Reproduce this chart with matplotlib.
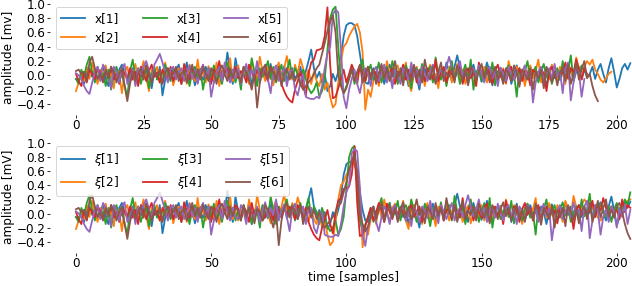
import numpy as np
import matplotlib
matplotlib.use('Agg')
import matplotlib.pyplot as plt

# ---- top panel series (raw signals) ----
x1 = [-0.05, -0.08, 0.02, -0.12, 0.05, 0.10, -0.02, 0.08, -0.06, 0.03,
      0.12, -0.04, -0.15, 0.06, 0.02, -0.10, 0.08, 0.15, 0.04, -0.07,
      0.02, 0.10, -0.12, 0.05, -0.03, 0.08, 0.14, -0.02, -0.18, 0.06,
      -0.05, 0.12, -0.28, -0.06, 0.10, 0.03, -0.09, 0.07, 0.15, -0.04,
      0.02, 0.18, -0.08, 0.05, -0.14, 0.09, 0.01, -0.06, 0.12, -0.02,
      0.08, -0.10, 0.04, 0.15, -0.05, 0.02, 0.32, 0.06, -0.12, 0.24,
      0.03, -0.08, 0.10, -0.02, 0.14, -0.15, 0.05, 0.08, -0.04, 0.11,
      -0.06, 0.02, 0.16, -0.10, 0.04, 0.09, -0.03, 0.13, -0.07, 0.05,
      0.10, -0.05, 0.02, 0.12, -0.08, 0.06, 0.20, 0.36, 0.10, -0.04,
      0.05, -0.10, 0.02, -0.22, -0.15,
      0.02, -0.08, 0.05, 0.25, 0.55, 0.70, 0.73, 0.73, 0.70, 0.55,
      0.30, 0.05, -0.10, -0.12, 0.02, 0.10, -0.05, 0.04,
      0.08, -0.12, 0.03, 0.15, -0.02, 0.06, -0.08,
      0.10, -0.05, 0.02, -0.15, 0.08, 0.12, -0.03, -0.20, 0.05, 0.09,
      -0.06, 0.03, 0.14, -0.10, 0.02, 0.07, -0.04, 0.18, 0.05, -0.08,
      0.12, 0.28, 0.10, -0.05, 0.08, -0.12, 0.04, 0.15, -0.02, 0.06,
      -0.09, 0.02, 0.18, 0.05, -0.14, 0.08, -0.03, 0.11, -0.06, 0.04,
      0.09, -0.12, 0.02, 0.14, -0.05, 0.07, -0.10, 0.03, 0.12, -0.02,
      0.05, -0.08, 0.10, 0.02, -0.15, 0.06, 0.13, -0.04, 0.08, -0.06,
      0.03, 0.15, -0.02, 0.10, -0.08, 0.05, 0.12, -0.05, 0.09, -0.03,
      0.02, 0.12, -0.05, 0.08, 0.16, 0.02, -0.10, 0.10, 0.24, 0.05,
      -0.17, -0.05, 0.10, 0.16, 0.08, 0.17]

x2 = [-0.22, -0.10, 0.05, -0.08, 0.12, -0.05, 0.18, 0.02, -0.12, 0.08,
      -0.03, 0.14, -0.06, 0.04, -0.18, 0.10, 0.02, -0.25, 0.06, 0.12,
      -0.08, 0.03, 0.16, -0.12, 0.05, 0.20, -0.04, -0.22, 0.08, 0.02,
      0.12, -0.10, 0.04, 0.18, -0.06, 0.09, -0.14, 0.03, 0.10, -0.02,
      0.06, -0.12, 0.15, 0.02, -0.08, 0.22, -0.04, 0.07, -0.10, 0.13,
      0.03, -0.06, 0.18, -0.15, 0.05, 0.10, -0.02, 0.24, -0.08, 0.04,
      0.14, -0.10, 0.06, 0.02, -0.12, 0.20, 0.03, -0.06, 0.26, 0.05,
      -0.08, 0.12, 0.02, -0.14, 0.08, 0.18, -0.05, 0.10, 0.27, 0.04,
      -0.06, 0.15, 0.02, 0.23, 0.10, -0.04, 0.08, -0.12, 0.05, -0.08,
      -0.15, 0.02, -0.20, -0.10, -0.30, -0.45, -0.40, -0.10, 0.20, 0.40,
      0.45, 0.55, 0.62, 0.68, 0.72, 0.60, 0.32, -0.48, -0.20, -0.30,
      -0.08, 0.05, -0.15, 0.10, -0.05, 0.20, 0.02, -0.12, 0.08, 0.14,
      -0.06, 0.03, 0.18, -0.10, -0.22, 0.05, 0.12, -0.03, 0.08, -0.15,
      0.06, 0.15, -0.08, 0.02, -0.18, 0.10, 0.04, -0.05, 0.12, -0.10,
      0.02, 0.16, -0.06, 0.08, -0.12, 0.05, 0.11, -0.14, 0.03, 0.09,
      -0.05, 0.12, -0.10, 0.04, 0.15, -0.08, 0.02, -0.03, 0.10, -0.12,
      0.20, 0.05, -0.06, 0.12, -0.02, 0.08, -0.15, 0.04, 0.14, -0.04,
      0.06, 0.22, -0.10, 0.03, 0.10, -0.06, 0.15, 0.02, -0.08, 0.12,
      0.04, -0.12, 0.18, 0.06, -0.03, 0.25, 0.10, -0.05, 0.12, 0.20,
      0.15, 0.22, 0.08, 0.02, -0.06, -0.10, -0.04, 0.02, 0.05]

x3 = [-0.05, -0.12, 0.08, -0.02, 0.15, 0.26, 0.05, -0.10, 0.12, -0.06,
      0.03, -0.15, 0.08, -0.20, 0.04, 0.12, -0.08, 0.02, -0.14, -0.30,
      0.06, 0.22, -0.05, 0.10, -0.12, 0.03, 0.08, -0.18, 0.02, 0.12,
      -0.06, 0.04, -0.10, 0.15, 0.02, -0.08, 0.10, -0.03, 0.06, -0.12,
      0.08, 0.02, -0.15, 0.05, 0.12, -0.04, 0.09, -0.20, 0.03, 0.10,
      -0.05, 0.14, -0.08, 0.02, -0.12, 0.06, 0.18, -0.03, 0.08, -0.10,
      0.04, -0.20, 0.12, 0.02, -0.07, 0.24, 0.05, -0.15, 0.10, -0.02,
      0.08, 0.20, -0.05, 0.12, -0.10, 0.03, 0.15, -0.08, 0.06, 0.22,
      -0.04, 0.10, 0.02, -0.15, 0.08, -0.05, -0.18, -0.25, -0.20, -0.10,
      -0.30, -0.22, -0.05, 0.35, 0.80, 0.92, 0.96, 0.40, -0.10, -0.25,
      -0.15, -0.05, 0.08, -0.12, 0.02, 0.10, 0.22, -0.08, 0.05, 0.15,
      -0.06, 0.02, 0.18, -0.10, 0.06, 0.12, -0.04, 0.20, 0.03, -0.12,
      0.08, -0.05, 0.14, 0.02, -0.18, 0.06, 0.10, -0.03, 0.16, -0.08,
      0.04, 0.12, -0.10, 0.25, 0.02, -0.06, 0.10, -0.15, 0.05, 0.20,
      -0.04, 0.08, -0.12, 0.03, 0.15, -0.06, 0.22, -0.20, 0.05, 0.10,
      -0.08, 0.02, 0.12, -0.05, 0.18, -0.14, 0.06, 0.03, -0.10, 0.08,
      0.14, -0.06, 0.02, -0.30, 0.10, -0.04, 0.06, 0.20, -0.08, 0.03,
      0.12, -0.10, 0.05, 0.16, -0.03, 0.08, -0.12, 0.02, 0.10, -0.06,
      0.20, -0.04, 0.06, 0.28, -0.08, 0.12, 0.02, 0.14, 0.05]

x4 = [0.02, -0.08, -0.15, 0.05, -0.10, 0.08, 0.02, -0.05, 0.10, 0.04,
      -0.08, 0.06, -0.02, 0.12, -0.06, 0.03, -0.12, 0.08, 0.02, -0.04,
      0.10, -0.06, 0.05, -0.15, 0.12, 0.03, -0.08, 0.06, 0.15, -0.02,
      0.04, -0.10, 0.08, 0.02, -0.05, 0.12, -0.08, 0.05, 0.02, -0.12,
      0.16, 0.04, -0.06, 0.10, 0.02, -0.10, 0.07, 0.14, -0.04, 0.05,
      -0.12, 0.08, 0.02, 0.20, -0.06, 0.04, 0.10, -0.08, 0.03, 0.12,
      -0.04, 0.06, 0.02, -0.10, 0.15, 0.05, -0.06, 0.08, -0.02, 0.10,
      0.03, -0.08, 0.12, 0.05, -0.05, 0.08, -0.12, -0.22, -0.30, -0.35,
      -0.38, -0.20, -0.08, 0.05, -0.15, -0.28, 0.02, 0.18, 0.22, 0.35,
      0.36, 0.38, 0.55, 0.95, 0.15, -0.32, -0.30, -0.18, -0.05, 0.08,
      -0.10, 0.02, 0.15, 0.05, -0.12, 0.14, 0.02, -0.08, 0.12, -0.04,
      0.08, 0.02, -0.10, 0.06, 0.12, -0.05, 0.03, 0.10, -0.12, 0.05,
      0.02, 0.15, -0.06, 0.08, -0.02, 0.12, -0.10, 0.04, 0.06, -0.08,
      0.10, 0.02, -0.05, 0.22, -0.08, 0.04, 0.12, -0.10, 0.06, 0.02,
      -0.06, 0.08, 0.14, -0.12, 0.03, 0.10, -0.04, 0.06, -0.15, 0.18,
      0.02, -0.08, 0.10, 0.04, -0.12, 0.06, 0.15, -0.02, 0.08, -0.10,
      0.05, 0.12, -0.06, 0.02, 0.10, -0.08, 0.06, 0.04, -0.14, 0.08,
      0.04, 0.04, 0.06, 0.03, -0.22, 0.05, 0.12, -0.02, 0.02, 0.02,
      0.03, 0.18, -0.05, 0.10, 0.04, 0.22, 0.08, -0.06, 0.10, 0.02]

x5 = [0.03, 0.00, -0.05, -0.15, -0.22, -0.26, -0.10, 0.05, 0.12, -0.08,
      0.15, 0.08, -0.05, -0.18, 0.12, 0.05, -0.10, 0.10, 0.16, -0.12,
      -0.04, 0.08, -0.15, 0.10, 0.02, 0.12, 0.20, 0.06, -0.08, 0.15,
      0.22, 0.30, 0.18, 0.04, -0.10, 0.08, 0.12, -0.06, 0.05, 0.10,
      -0.08, 0.02, 0.14, -0.05, 0.08, -0.12, 0.06, 0.15, -0.03, 0.10,
      -0.30, -0.10, 0.05, 0.12, -0.08, 0.18, 0.02, -0.10, 0.08, -0.05,
      0.10, -0.12, 0.04, 0.16, -0.06, 0.08, -0.02, 0.20, -0.10, 0.05,
      0.12, -0.05, -0.25, 0.06, 0.14, -0.08, 0.03, 0.10, -0.15, 0.05,
      0.08, -0.20, -0.28, -0.10, 0.02, -0.30, -0.32, -0.33, -0.33, -0.30,
      -0.32, -0.15, 0.10, 0.30, 0.40, 0.85, 0.92, 0.88, 0.37, -0.30,
      -0.46, -0.20, -0.05, 0.08, -0.12, -0.25, -0.05, 0.10, 0.02, -0.15,
      0.06, 0.12, -0.08, 0.03, 0.15, -0.10, 0.05, -0.18, 0.08, 0.02,
      -0.12, 0.10, 0.04, -0.06, 0.18, -0.02, 0.08, -0.14, 0.12, 0.03,
      -0.08, 0.05, 0.15, -0.10, 0.02, 0.08, -0.05, 0.12, 0.26, 0.10,
      -0.04, 0.06, 0.20, -0.02, 0.08, -0.12, 0.04, 0.10, -0.06, 0.14,
      0.02, -0.10, 0.08, 0.12, -0.04, 0.06, -0.15, 0.10, 0.03, -0.08,
      0.12, 0.02, -0.06, 0.08, -0.12, 0.05, 0.14, -0.03, 0.07, -0.38,
      -0.10, 0.05, 0.12, -0.08, 0.03, 0.10, -0.05, 0.16, -0.02, 0.06,
      -0.25, 0.10, 0.18, -0.35, -0.10, 0.12, 0.04, -0.30, -0.05]

x6 = [0.06, 0.08, 0.02, 0.05, -0.08, 0.18, 0.26, 0.10, -0.05, 0.02,
      -0.10, 0.08, -0.04, 0.12, 0.04, -0.08, 0.02, 0.10, -0.15, -0.36,
      -0.12, 0.05, -0.08, 0.02, 0.10, -0.06, 0.14, 0.04, -0.10, 0.06,
      -0.02, 0.08, -0.12, 0.04, 0.10, -0.05, 0.02, 0.12, -0.08, 0.03,
      0.06, -0.10, 0.02, 0.15, -0.04, 0.08, -0.06, 0.12, 0.02, -0.08,
      0.10, 0.04, -0.12, 0.06, 0.14, 0.02, -0.08, 0.10, -0.04, 0.08,
      0.02, -0.10, 0.12, 0.05, -0.06, -0.20, 0.02, -0.45, -0.10, 0.08,
      0.15, -0.05, 0.10, 0.04, -0.08, 0.12, -0.15, 0.02, 0.10, -0.06,
      0.05, -0.08, 0.02, -0.12, -0.20, -0.15, -0.10, -0.05, 0.02, 0.10,
      0.15, 0.30, 0.45, 0.62, 0.75, 0.84, 0.60, 0.00, -0.15, -0.25,
      -0.18, -0.05, 0.10, -0.08, 0.05, 0.15, -0.10, 0.04, 0.12, -0.06,
      0.08, -0.12, 0.02, 0.16, -0.05, 0.10, -0.08, 0.04, 0.20, -0.02,
      0.06, -0.14, 0.10, 0.02, -0.08, 0.15, -0.04, 0.08, -0.10, 0.22,
      0.02, -0.06, 0.12, -0.12, 0.05, 0.18, -0.08, 0.04, -0.02, 0.10,
      -0.10, 0.14, 0.02, -0.06, 0.08, -0.14, 0.12, 0.04, -0.08, 0.06,
      0.16, -0.04, 0.08, -0.10, 0.02, 0.12, -0.06, 0.05, -0.12, 0.10,
      0.02, -0.08, 0.14, 0.04, -0.16, 0.08, 0.02, -0.06, 0.10, -0.20,
      0.05, -0.04, 0.08, -0.18, 0.12, 0.02, -0.10, 0.06, -0.14, 0.04,
      0.10, -0.08, 0.15, -0.12, 0.02, 0.18, -0.06, 0.08, 0.20, -0.04,
      0.02, -0.15, -0.28, -0.36]

# ---- extra samples used in the aligned (bottom) series ----
fill3 = [0.05, -0.10, 0.12, -0.04, 0.08, -0.15, 0.03]
fill4 = [0.06, -0.08, 0.10, 0.02, -0.12, 0.15, -0.04, 0.08, 0.02, -0.10]
fill5 = [-0.08, 0.12, 0.04, -0.15, 0.10, 0.02, -0.06]
fill6 = [0.04, -0.10, 0.12, -0.05, 0.08, 0.02, -0.14, 0.06]
tail2 = [0.10, -0.05, 0.12, 0.02, 0.15, 0.08, 0.18, 0.20]
tail3 = [-0.05, 0.10, -0.12, 0.06, 0.15, -0.02, 0.08, 0.20, 0.12, 0.30]
tail4 = [0.05, -0.08, 0.20, 0.02, 0.12, 0.08]
tail5 = [0.06, -0.12, 0.10, 0.02, -0.20, 0.08, -0.05, 0.12, -0.15, 0.05]
tail6 = [0.05, -0.06, 0.10, 0.15]

xi1 = list(x1)
xi2 = x2[:60] + x2[61:] + tail2
xi3 = x3[:60] + fill3 + x3[60:] + tail3
xi4 = x4[:60] + fill4 + x4[60:] + tail4
xi5 = x5[:60] + fill5 + x5[60:] + tail5
xi6 = x6[:60] + fill6 + x6[60:190] + tail6 + x6[190:]

top_series = [x1, x2, x3, x4, x5, x6]
bottom_series = [xi1, xi2, xi3, xi4, xi5, xi6]
top_labels = ['x[1]', 'x[2]', 'x[3]', 'x[4]', 'x[5]', 'x[6]']
bottom_labels = [r'$\xi$[1]', r'$\xi$[2]', r'$\xi$[3]', r'$\xi$[4]', r'$\xi$[5]', r'$\xi$[6]']
top_xticks = [0, 25, 50, 75, 100, 125, 150, 175, 200]
bottom_xticks = [0, 50, 100, 150, 200]
yticks = [-0.4, -0.2, 0.0, 0.2, 0.4, 0.6, 0.8, 1.0]

plt.rcParams['font.size'] = 12
DPI = 72
fig = plt.figure(figsize=(632 / DPI, 286 / DPI), dpi=DPI)
ax1 = fig.add_axes([0.0791, 0.599, 0.961, 0.3976])
ax2 = fig.add_axes([0.0791, 0.1154, 0.961, 0.3944])

for s, lab in zip(top_series, top_labels):
    ax1.plot(np.arange(len(s)), s, label=lab, lw=1.8)
for s, lab in zip(bottom_series, bottom_labels):
    ax2.plot(np.arange(len(s)), s, label=lab, lw=1.8)

for ax, xt in ((ax1, top_xticks), (ax2, bottom_xticks)):
    ax.set_xlim(-9.6, 215)
    ax.set_xticks(xt)
    ax.set_yticks(yticks)
    ax.tick_params(length=3, pad=1.5)
    for sp in ax.spines.values():
        sp.set_visible(False)
    ax.legend(loc='upper left', ncol=3)

ax1.set_ylim(-0.55, 1.04)
ax2.set_ylim(-0.56, 1.04)
ax1.set_ylabel('amplitude [mv]', labelpad=2)
ax2.set_ylabel('amplitude [mV]', labelpad=2)
ax2.set_xlabel('time [samples]', labelpad=1)

fig.savefig('out.png', dpi=DPI)
